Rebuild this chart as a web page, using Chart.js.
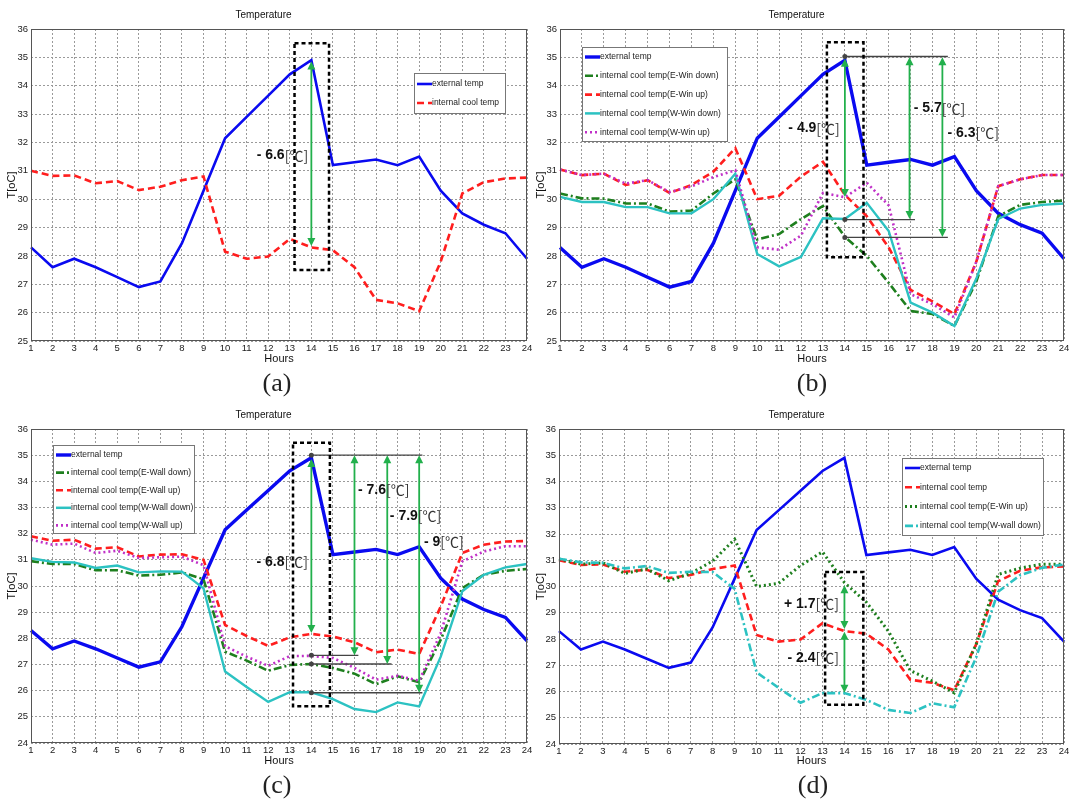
<!DOCTYPE html>
<html lang="en">
<head>
<meta charset="UTF-8">
<title>Temperature</title>
<script src="https://cdn.jsdelivr.net/npm/chart.js"></script>
<style>
    * { margin: 0; padding: 0; box-sizing: border-box; }
    body { width: 1069px; height: 802px; background: #fff; position: relative; overflow: hidden; }
    canvas { position: absolute; }
    .caption { position: absolute; width: 60px; height: 30px; line-height: 30px; text-align: center; font-family: 'Liberation Serif', 'DejaVu Serif', serif; font-size: 26px; color: #222; }
</style>
</head>
<body>

<canvas id="chartA" width="535" height="372" style="left:0;top:0"></canvas>
<canvas id="chartB" width="540" height="372" style="left:529px;top:0"></canvas>
<canvas id="chartC" width="535" height="374" style="left:0;top:400px"></canvas>
<canvas id="chartD" width="540" height="374" style="left:529px;top:400px"></canvas>

<div class="caption" style="left:247px;top:368px">(a)</div>
<div class="caption" style="left:782px;top:368px">(b)</div>
<div class="caption" style="left:247px;top:770px">(c)</div>
<div class="caption" style="left:783px;top:770px">(d)</div>

<script>
    // ---- data ----
    const hours = [1,2,3,4,5,6,7,8,9,10,11,12,13,14,15,16,17,18,19,20,21,22,23,24];

    const extTemp   = [28.3,27.6,27.9,27.6,27.25,26.9,27.1,28.45,30.3,32.15,32.9,33.65,34.4,34.9,31.2,31.3,31.4,31.2,31.5,30.3,29.5,29.1,28.8,27.9];
    const coolTemp  = [31.0,30.82,30.84,30.56,30.64,30.32,30.44,30.67,30.8,28.15,27.9,27.98,28.6,28.3,28.2,27.6,26.45,26.33,26.05,27.8,30.2,30.6,30.73,30.76];

    const eWinDown  = [30.2,30.03,30.02,29.85,29.85,29.56,29.6,30.2,30.7,28.58,28.77,29.3,29.76,28.67,28.0,27.05,26.06,25.95,25.53,27.1,29.4,29.8,29.9,29.95];
    const eWinUp    = [31.05,30.85,30.9,30.5,30.67,30.22,30.5,30.97,31.8,30.0,30.12,30.8,31.32,30.15,29.4,28.3,26.8,26.4,25.95,27.8,30.46,30.7,30.85,30.85];
    const wWinDown  = [30.08,29.9,29.9,29.72,29.72,29.5,29.5,30.0,30.9,28.07,27.63,27.97,29.33,29.3,29.87,28.88,26.35,26.0,25.53,27.2,29.3,29.67,29.8,29.85];
    const wWinUp    = [31.05,30.85,30.9,30.55,30.67,30.25,30.45,30.78,31.02,28.3,28.22,28.72,30.22,30.07,30.58,29.78,26.65,26.3,25.83,27.8,30.46,30.7,30.85,30.85];

    const eWallDown = [30.95,30.84,30.84,30.6,30.6,30.4,30.43,30.52,30.26,27.49,27.15,26.76,26.98,27.02,26.87,26.65,26.25,26.55,26.32,27.95,29.92,30.43,30.58,30.65];
    const eWallUp   = [31.9,31.73,31.77,31.43,31.48,31.13,31.2,31.21,31.0,28.51,28.09,27.71,28.04,28.17,28.07,27.85,27.47,27.57,27.4,29.22,31.26,31.58,31.7,31.72];
    const wWallDown = [31.06,30.92,30.9,30.69,30.78,30.52,30.56,30.55,29.91,26.73,26.14,25.57,25.94,25.94,25.68,25.3,25.18,25.55,25.4,27.3,29.8,30.43,30.71,30.84];
    const wWallUp   = [31.77,31.58,31.62,31.26,31.35,31.07,31.1,31.12,30.8,27.7,27.3,26.95,27.32,27.33,27.25,26.87,26.42,26.57,26.38,28.2,30.94,31.32,31.52,31.52];

    // annotations in data units: boxes [x1,x2,yTop,yBottom], arrows [x,y1,y2], guides [x1,x2,y], labels [text,x,y,align]
    const notesA = {
        boxes: [[13.22, 14.82, 35.5, 27.5]],
        arrows: [[14, 34.85, 28.35]],
        guides: [],
        labels: [['- 6.6[℃]', 13.85, 31.55, 'right']]
    };
    const notesB = {
        boxes: [[13.18, 14.85, 35.53, 27.95]],
        arrows: [[14, 34.95, 30.08], [16.95, 35, 29.3], [18.45, 35, 28.67]],
        guides: [[14, 18.7, 35.03], [14, 17.2, 29.28], [14, 18.7, 28.65]],
        labels: [['- 4.9[℃]', 13.77, 32.5, 'right'], ['- 5.7[℃]', 17.14, 33.2, 'left'], ['- 6.3[℃]', 18.68, 32.33, 'left']]
    };
    const notesC = {
        boxes: [[13.15, 14.86, 35.47, 25.4]],
        arrows: [[14, 34.85, 28.2], [16, 35, 27.35], [17.52, 35, 27.02], [19, 35, 25.92]],
        guides: [[14, 19.15, 35.0], [14, 16.18, 27.35], [14, 17.72, 27.02], [14, 19.15, 25.92]],
        labels: [['- 6.8[℃]', 13.84, 30.92, 'right'], ['- 7.6[℃]', 16.16, 33.67, 'left'], ['- 7.9[℃]', 17.64, 32.68, 'left'], ['- 9[℃]', 19.22, 31.68, 'left']]
    };
    const notesD = {
        boxes: [[13.12, 14.86, 30.55, 25.5]],
        arrows: [[14, 30.05, 28.38], [14, 28.28, 25.95]],
        guides: [],
        labels: [['+ 1.7[℃]', 13.75, 29.33, 'right'], ['- 2.4[℃]', 13.75, 27.28, 'right']]
    };

    // ---- styling ----
    const FONT = "'Liberation Sans', Arial, sans-serif";
    const COL = { blue: '#0a0af0', red: '#ff1e1e', green: '#1e7f1e', cyan: '#2cc2c2', magenta: '#c030c8', arrow: '#22b04c' };
    const DASH = [7, 4], DOT = [2, 3], DASHDOT = [8, 3, 2, 3];

    function line(label, data, color, width, dash) {
        return { label, data, borderColor: color, backgroundColor: color, borderWidth: width, borderDash: dash || [], pointRadius: 0, tension: 0, fill: false };
    }

    // overlay: axes frame, annotations, legend box
    const overlay = {
        id: 'overlay',
        afterDatasetsDraw(chart, args, opts) {
            const { ctx, chartArea: a, scales: { x, y } } = chart;
            const px = h => x.getPixelForValue(h - 1);
            const py = v => y.getPixelForValue(v);
            ctx.save();

            // frame
            ctx.setLineDash([]);
            ctx.strokeStyle = '#555';
            ctx.lineWidth = 1;
            ctx.strokeRect(Math.round(a.left) + 0.5, Math.round(a.top) + 0.5, Math.round(a.width) - 1, Math.round(a.height) - 1);

            const n = opts.notes;
            // gray guide lines
            n.guides.forEach(([x1, x2, v]) => {
                ctx.strokeStyle = '#444';
                ctx.lineWidth = 1.3;
                ctx.beginPath();
                ctx.moveTo(px(x1), py(v));
                ctx.lineTo(px(x2), py(v));
                ctx.stroke();
                ctx.fillStyle = '#444';
                ctx.beginPath();
                ctx.arc(px(x1), py(v), 2.5, 0, Math.PI * 2);
                ctx.fill();
            });

            // dashed boxes
            n.boxes.forEach(([x1, x2, t, b]) => {
                ctx.setLineDash([4, 3]);
                ctx.strokeStyle = '#000';
                ctx.lineWidth = 2.5;
                ctx.strokeRect(px(x1), py(t), px(x2) - px(x1), py(b) - py(t));
                ctx.setLineDash([]);
            });

            // double arrows
            n.arrows.forEach(([h, v1, v2]) => {
                const X = px(h), Y1 = py(v1), Y2 = py(v2);
                ctx.strokeStyle = COL.arrow;
                ctx.fillStyle = COL.arrow;
                ctx.lineWidth = 1.8;
                ctx.beginPath();
                ctx.moveTo(X, Y1 + 6);
                ctx.lineTo(X, Y2 - 6);
                ctx.stroke();
                ctx.beginPath();
                ctx.moveTo(X, Y1); ctx.lineTo(X - 4, Y1 + 8); ctx.lineTo(X + 4, Y1 + 8); ctx.closePath();
                ctx.moveTo(X, Y2); ctx.lineTo(X - 4, Y2 - 8); ctx.lineTo(X + 4, Y2 - 8); ctx.closePath();
                ctx.fill();
            });

            // labels: bold value + unit
            n.labels.forEach(([txt, h, v, align]) => {
                const k = txt.indexOf('[');
                const val = txt.slice(0, k), unit = txt.slice(k);
                const fVal = "bold 14px " + FONT, fUnit = "14px 'Noto Sans CJK KR', 'DejaVu Sans', sans-serif";
                ctx.font = fVal; const w1 = ctx.measureText(val).width;
                ctx.font = fUnit; const w2 = ctx.measureText(unit).width;
                let X = px(h);
                if (align === 'right') X -= w1 + w2;
                const Y = py(v);
                ctx.textBaseline = 'middle';
                ctx.textAlign = 'left';
                ctx.fillStyle = '#111';
                ctx.font = fVal; ctx.fillText(val, X, Y);
                ctx.font = fUnit; ctx.fillStyle = '#333'; ctx.fillText(unit, X + w1, Y);
            });

            // legend
            const lg = opts.legend;
            ctx.setLineDash([]);
            ctx.fillStyle = '#fff';
            ctx.fillRect(lg.x, lg.y, lg.w, lg.h);
            ctx.strokeStyle = '#777';
            ctx.lineWidth = 1;
            ctx.strokeRect(lg.x + 0.5, lg.y + 0.5, lg.w, lg.h);
            chart.data.datasets.forEach((ds, i) => {
                const cy = lg.y + lg.first + i * lg.row;
                ctx.setLineDash(ds.borderDash);
                ctx.strokeStyle = ds.borderColor;
                ctx.lineWidth = Math.max(ds.borderWidth, 2.5);
                ctx.beginPath();
                ctx.moveTo(lg.x + 3, cy);
                ctx.lineTo(lg.x + 18, cy);
                ctx.stroke();
                ctx.setLineDash([]);
                ctx.fillStyle = '#222';
                ctx.font = '8.5px ' + FONT;
                ctx.textBaseline = 'middle';
                ctx.textAlign = 'left';
                ctx.fillText(ds.label, lg.x + 18, cy);
            });

            ctx.restore();
        }
    };

    // page layout of each panel: canvas box, plot area (page px), legend box (page px)
    const panels = [
        {
            id: 'chartA', page: { left: 0, top: 0, width: 535, height: 372 }, area: { left: 31, right: 527, top: 29, bottom: 341 }, yMin: 25,
            legend: { x: 414, y: 73, w: 91, h: 40, first: 11, row: 19 }, notes: notesA,
            datasets: [
                line('external temp', extTemp, COL.blue, 2.6),
                line('internal cool temp', coolTemp, COL.red, 2.6, DASH)
            ]
        },
        {
            id: 'chartB', page: { left: 529, top: 0, width: 540, height: 372 }, area: { left: 560, right: 1064, top: 29, bottom: 341 }, yMin: 25,
            legend: { x: 582, y: 47, w: 145, h: 94, first: 10, row: 18.8 }, notes: notesB,
            datasets: [
                line('external temp', extTemp, COL.blue, 3.4),
                line('internal cool temp(E-Win down)', eWinDown, COL.green, 2.6, DASHDOT),
                line('internal cool temp(E-Win up)', eWinUp, COL.red, 2.6, DASH),
                line('internal cool temp(W-Win down)', wWinDown, COL.cyan, 2.4),
                line('internal cool temp(W-Win up)', wWinUp, COL.magenta, 2.6, DOT)
            ]
        },
        {
            id: 'chartC', page: { left: 0, top: 400, width: 535, height: 374 }, area: { left: 31, right: 527, top: 429, bottom: 743 }, yMin: 24,
            legend: { x: 53, y: 445, w: 141, h: 88, first: 10, row: 17.6 }, notes: notesC,
            datasets: [
                line('external temp', extTemp, COL.blue, 3.4),
                line('internal cool temp(E-Wall down)', eWallDown, COL.green, 2.6, DASHDOT),
                line('internal cool temp(E-Wall up)', eWallUp, COL.red, 2.6, DASH),
                line('internal cool temp(W-Wall down)', wWallDown, COL.cyan, 2.4),
                line('internal cool temp(W-Wall up)', wWallUp, COL.magenta, 2.6, DOT)
            ]
        },
        {
            id: 'chartD', page: { left: 529, top: 400, width: 540, height: 374 }, area: { left: 559, right: 1064, top: 429, bottom: 744 }, yMin: 24,
            legend: { x: 902, y: 458, w: 141, h: 77, first: 10, row: 19.3 }, notes: notesD,
            datasets: [
                line('external temp', extTemp, COL.blue, 2.6),
                line('internal cool temp', coolTemp, COL.red, 2.6, DASH),
                line('internal cool temp(E-Win up)', eWinUp, COL.green, 3, DOT),
                line('internal cool temp(W-wall down)', wWallDown, COL.cyan, 2.6, DASHDOT)
            ]
        }
    ];

    panels.forEach(p => {
        const pg = p.page, ar = p.area;
        // later series drawn on top, like the original
        p.datasets.forEach((ds, i) => { ds.order = -i; });
        const legend = { ...p.legend, x: p.legend.x - pg.left, y: p.legend.y - pg.top };

        new Chart(document.getElementById(p.id), {
            type: 'line',
            data: { labels: hours, datasets: p.datasets },
            options: {
                responsive: false,
                animation: false,
                events: [],
                layout: { padding: { left: 0, top: 0, bottom: 0, right: pg.left + pg.width - ar.right } },
                plugins: {
                    legend: { display: false },
                    tooltip: { enabled: false },
                    title: {
                        display: true, text: 'Temperature', color: '#111',
                        font: { family: FONT, size: 10, weight: 'normal', lineHeight: 1.2 },
                        padding: { top: 9, bottom: ar.top - pg.top - 9 - 12 }
                    },
                    overlay: { notes: p.notes, legend: legend }
                },
                scales: {
                    x: {
                        type: 'category',
                        offset: false,
                        grid: { color: '#9a9a9a', lineWidth: 1, drawTicks: false },
                        border: { display: false, dash: [2, 2] },
                        ticks: { color: '#222', font: { family: FONT, size: 9.5 }, padding: 2, autoSkip: false, maxRotation: 0 },
                        title: { display: true, text: 'Hours', color: '#111', font: { family: FONT, size: 11 }, padding: { top: 0, bottom: 6 } },
                        afterFit(s) { s.height = pg.top + pg.height - ar.bottom; s.paddingRight = 0; s.paddingLeft = 0; }
                    },
                    y: {
                        min: p.yMin, max: 36,
                        grid: { color: '#9a9a9a', lineWidth: 1, drawTicks: false },
                        border: { display: false, dash: [2, 2] },
                        ticks: { stepSize: 1, color: '#222', font: { family: FONT, size: 9.5 }, padding: 3 },
                        title: { display: true, text: 'T[oC]', color: '#111', font: { family: FONT, size: 11 }, padding: { top: 5, bottom: 0 } },
                        afterFit(s) { s.width = ar.left - pg.left; }
                    }
                }
            },
            plugins: [overlay]
        });
    });
</script>

</body>
</html>
